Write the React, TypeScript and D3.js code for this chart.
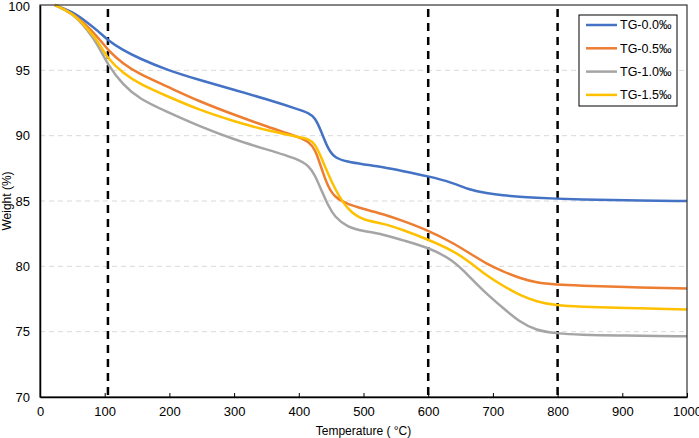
import * as d3 from "d3";
import { useEffect, useRef } from "react";

// Temperature samples (°C) shared by all four curves
const temps = [23, 50, 75, 90, 105, 128, 154, 195, 247, 300, 350, 400, 415, 425, 435, 445, 455, 475, 500, 530, 560, 600, 638, 664, 690, 716, 741, 767, 798, 834, 900, 1000];

const tg00 = [100, 99.5, 98.6, 98.0, 97.3, 96.55, 95.9, 95.05, 94.25, 93.5, 92.8, 92.0, 91.75, 91.4, 90.3, 89.0, 88.3, 88.0, 87.8, 87.6, 87.3, 86.9, 86.4, 85.85, 85.6, 85.42, 85.32, 85.25, 85.18, 85.12, 85.05, 85.0];
const tg05 = [100, 99.4, 98.3, 97.5, 96.55, 95.5, 94.7, 93.8, 92.6, 91.6, 90.7, 89.9, 89.55, 89.0, 87.5, 86.1, 85.3, 84.75, 84.4, 84.0, 83.5, 82.75, 81.8, 81.0, 80.2, 79.6, 79.1, 78.75, 78.6, 78.53, 78.42, 78.3];
const tg10 = [100, 99.4, 98.0, 96.9, 95.4, 93.9, 92.8, 91.85, 90.7, 89.7, 88.95, 88.2, 87.7, 87.0, 85.8, 84.7, 83.8, 83.0, 82.7, 82.45, 82.0, 81.45, 80.5, 79.2, 77.9, 76.8, 75.75, 75.1, 74.87, 74.75, 74.7, 74.65];
const tg15 = [100, 99.4, 98.1, 97.2, 95.85, 94.8, 93.95, 93.05, 91.95, 91.1, 90.4, 89.9, 89.75, 89.4, 88.3, 87.1, 86.0, 84.3, 83.5, 83.3, 82.8, 82.05, 81.2, 80.35, 79.3, 78.5, 77.8, 77.3, 77.0, 76.9, 76.82, 76.7];

const seriesNames = ["TG-0.0‰", "TG-0.5‰", "TG-1.0‰", "TG-1.5‰"];
const seriesColors = ["#4472C4", "#ED7D31", "#A5A5A5", "#FFC000"];
const markerTemps = [105, 600, 800];
const xTicks = [0, 100, 200, 300, 400, 500, 600, 700, 800, 900, 1000];
const yTicks = [70, 75, 80, 85, 90, 95, 100];

const App = () => {
  const svgRef = useRef<SVGSVGElement | null>(null);

  useEffect(() => {
    if (!svgRef.current) return;
    document.body.style.margin = "0";

    const width = 699;
    const height = 438;
    const margin = { top: 5, right: 12, bottom: 41, left: 40 };
    const font = "'Liberation Sans', Arial, sans-serif";

    const x = d3.scaleLinear().domain([0, 1000]).range([margin.left, width - margin.right]);
    const y = d3.scaleLinear().domain([70, 100]).range([height - margin.bottom, margin.top]);

    const svg = d3.select(svgRef.current);
    svg.selectAll("*").remove();

    // horizontal gridlines
    svg.append("g")
      .selectAll("line")
      .data(yTicks.filter((t) => t > 70 && t < 100))
      .join("line")
      .attr("x1", x(0))
      .attr("x2", x(1000))
      .attr("y1", (d) => y(d))
      .attr("y2", (d) => y(d))
      .attr("stroke", "#d9d9d9")
      .attr("stroke-width", 1)
      .attr("stroke-dasharray", "5,4");

    // vertical marker lines
    svg.append("g")
      .selectAll("line")
      .data(markerTemps)
      .join("line")
      .attr("x1", (d) => x(d))
      .attr("x2", (d) => x(d))
      .attr("y1", y(100) + 4)
      .attr("y2", y(70))
      .attr("stroke", "#000")
      .attr("stroke-width", 2.5)
      .attr("stroke-dasharray", "8,6");

    // curves
    const allSeries = [tg00, tg05, tg10, tg15];
    const line = d3
      .line<number>()
      .x((_, i) => x(temps[i]))
      .y((d) => y(d))
      .curve(d3.curveBasis);

    allSeries.forEach((vals, i) => {
      svg.append("path")
        .datum(vals)
        .attr("fill", "none")
        .attr("stroke", seriesColors[i])
        .attr("stroke-width", 2.5)
        .attr("d", line);
    });

    // frame
    svg.append("rect")
      .attr("x", x(0))
      .attr("y", y(100))
      .attr("width", x(1000) - x(0))
      .attr("height", y(70) - y(100))
      .attr("fill", "none")
      .attr("stroke", "#333")
      .attr("stroke-width", 1.2);

    // x axis
    const xAxis = svg.append("g")
      .attr("transform", `translate(0,${y(70)})`)
      .call(d3.axisBottom(x).tickValues(xTicks).tickFormat(d3.format("d")).tickSizeInner(-4).tickSizeOuter(0).tickPadding(10));
    xAxis.select(".domain").attr("stroke", "#000").attr("stroke-width", 1.5);
    xAxis.selectAll(".tick line").attr("stroke", "#000");
    xAxis.selectAll("text").attr("font-family", font).attr("font-size", 13).attr("fill", "#000");

    // y axis
    const yAxis = svg.append("g")
      .attr("transform", `translate(${x(0)},0)`)
      .call(d3.axisLeft(y).tickValues(yTicks).tickSize(0).tickPadding(10));
    yAxis.select(".domain").attr("stroke", "#000").attr("stroke-width", 1.5);
    yAxis.selectAll("text").attr("font-family", font).attr("font-size", 13).attr("fill", "#000");
    // keep the top label inside the page
    yAxis.selectAll<SVGTextElement, number>("text").filter((d) => d === 100).attr("dy", "0.45em");

    // axis titles
    svg.append("text")
      .attr("x", (x(0) + x(1000)) / 2)
      .attr("y", 435)
      .attr("text-anchor", "middle")
      .attr("font-family", font)
      .attr("font-size", 12)
      .text("Temperature ( °C)");

    svg.append("text")
      .attr("transform", `translate(11,${(y(70) + y(100)) / 2}) rotate(-90)`)
      .attr("text-anchor", "middle")
      .attr("font-family", font)
      .attr("font-size", 12)
      .text("Weight (%)");

    // legend
    const legend = svg.append("g").attr("transform", "translate(579,15)");
    legend.append("rect")
      .attr("width", 98)
      .attr("height", 91)
      .attr("fill", "#fff")
      .attr("stroke", "#000")
      .attr("stroke-width", 1);
    seriesNames.forEach((name, i) => {
      const ly = 10 + i * 23.3;
      legend.append("line")
        .attr("x1", 7)
        .attr("x2", 38)
        .attr("y1", ly)
        .attr("y2", ly)
        .attr("stroke", seriesColors[i])
        .attr("stroke-width", 2.5);
      legend.append("text")
        .attr("x", 41)
        .attr("y", ly)
        .attr("dy", "0.35em")
        .attr("font-family", font)
        .attr("font-size", 12.5)
        .text(name);
    });
  }, []);

  return <svg ref={svgRef} width={699} height={438} style={{ display: "block" }}></svg>;
};

export default App;
